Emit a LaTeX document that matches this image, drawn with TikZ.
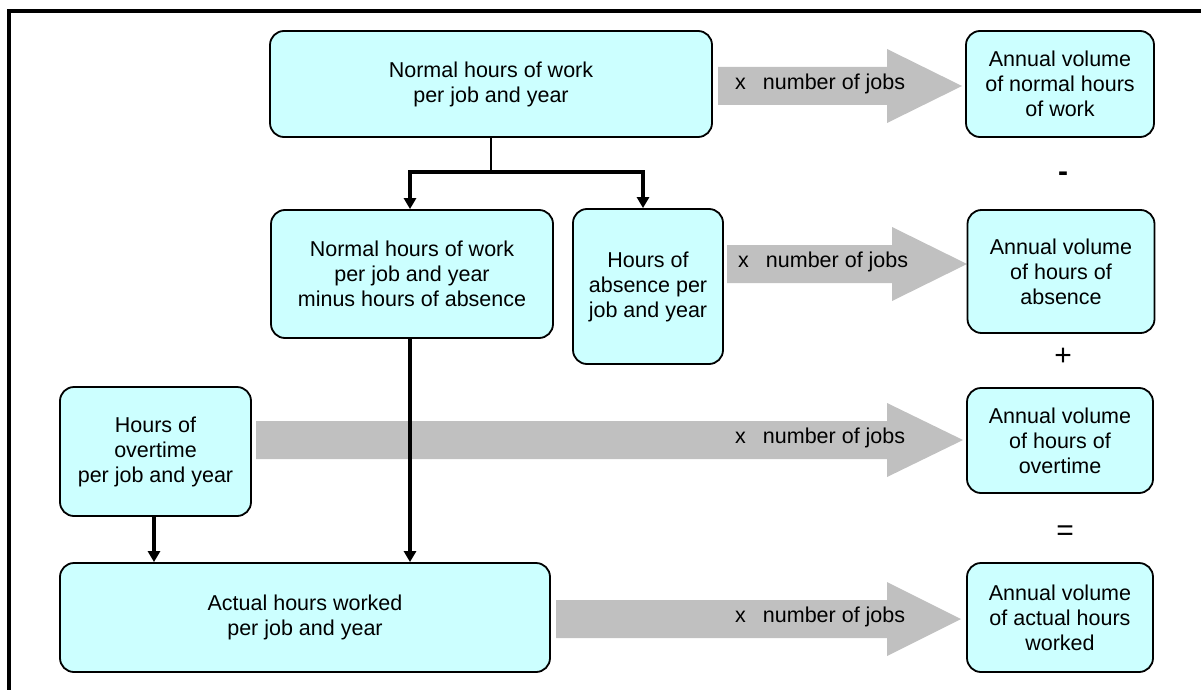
\documentclass[tikz,border=0pt]{standalone}
\usepackage{fontspec}
\setmainfont{Liberation Sans}
\usetikzlibrary{arrows.meta,calc}
\definecolor{boxcyan}{HTML}{CCFFFF}
\definecolor{arrowgray}{HTML}{C0C0C0}
\newcommand\blockarrow[4]{%
  \fill[arrowgray] (#1,#2-19) -- (#3,#2-19) -- (#3,#2-37) -- (#4,#2) -- (#3,#2+37) -- (#3,#2+19) -- (#1,#2+19) -- cycle;}
\begin{document}
\begin{tikzpicture}[x=1pt,y=-1pt,
  box/.style={draw=black,fill=boxcyan,line width=1.8pt,rounded corners=14pt,align=center,inner sep=0pt,font=\fontsize{21.5}{25}\selectfont},
  conn/.style={line width=3.5pt,-{Triangle[length=11pt,width=12pt]}},
  thinconn/.style={line width=1.5pt},
  lbl/.style={font=\fontsize{21.5}{25}\selectfont,anchor=west,inner sep=0pt},
  sign/.style={font=\fontsize{30}{32}\selectfont,inner sep=0pt}]
\clip (0,0) rectangle (1201,690);
\fill[white] (0,0) rectangle (1201,690);
\draw[line width=3.5pt] (9,700) -- (9,11) -- (1210,11);

% block arrows
\blockarrow{718}{86}{887}{962}
\blockarrow{727}{264}{892}{967}
\blockarrow{256}{440}{887}{963}
\blockarrow{556}{619}{887}{961}
\node[lbl] (m1) at (735,84) {x\hspace{17pt}number of jobs};
\node[lbl] (m2) at (738,262) {x\hspace{17pt}number of jobs};
\node[lbl] (m3) at (735,438) {x\hspace{17pt}number of jobs};
\node[lbl] (m4) at (735,617) {x\hspace{17pt}number of jobs};

% boxes
\node[box,minimum width=442pt,minimum height=106pt] (top) at (491,84) {Normal hours of work\\per job and year};
\node[box,minimum width=188pt,minimum height=106pt] (nv) at (1060,84) {Annual volume\\of normal hours\\of work};
\node[box,minimum width=282pt,minimum height=128pt] (minus) at (412,274) {Normal hours of work\\per job and year\\minus hours of absence};
\node[box,minimum width=150pt,minimum height=155pt] (abs) at (648,286.5) {Hours of\\absence per\\job and year};
\node[box,minimum width=187pt,minimum height=123pt] (avabs) at (1061,271.5) {Annual volume\\of hours of\\absence};
\node[box,minimum width=191pt,minimum height=129pt] (ot) at (155.5,451.5) {Hours of\\overtime\\per job and year};
\node[box,minimum width=186pt,minimum height=105pt] (avot) at (1060,440.5) {Annual volume\\of hours of\\overtime};
\node[box,minimum width=490pt,minimum height=109pt] (act) at (305,617.5) {Actual hours worked\\per job and year};
\node[box,minimum width=186pt,minimum height=109pt] (avact) at (1060,617.5) {Annual volume\\of actual hours\\worked};

% signs
\node[sign,font=\fontsize{30}{32}\selectfont\bfseries] (s1) at (1063,177) {-};
\node[sign] (s2) at (1063,357) {+};
\node[sign] (s3) at (1065,533) {=};

% connectors
\coordinate (split) at (491,172);
\coordinate (splitL) at (410,172);
\coordinate (splitR) at (643,172);
\draw[thinconn] (top.south) -- (split);
\draw[line width=3.5pt] ([xshift=-1.75pt]splitL) -- ([xshift=1.75pt]splitR);
\draw[conn] (splitL) -- (splitL |- minus.north);
\draw[conn] (splitR) -- (splitR |- abs.north);
\draw[conn] (minus.south -| splitL) -- (splitL |- act.north);
\draw[conn] ($(ot.south)+(-1.5,0)$) -- ($(ot.south |- act.north)+(-1.5,0)$);
\end{tikzpicture}
\end{document}
